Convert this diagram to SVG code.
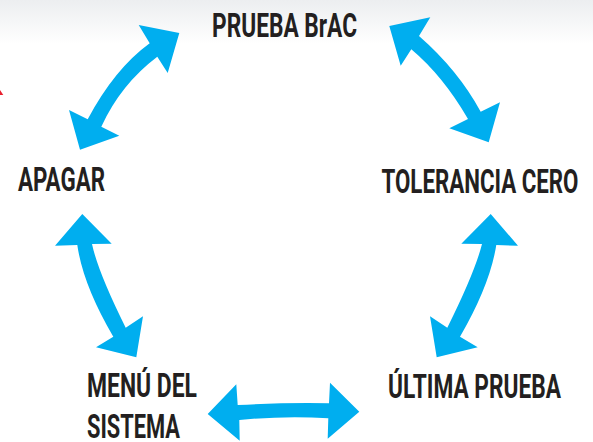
<svg xmlns="http://www.w3.org/2000/svg" width="593" height="442" viewBox="0 0 593 442">
  <defs>
    <linearGradient id="topShade" x1="0" y1="0" x2="0" y2="1">
      <stop offset="0" stop-color="#eceef0"/>
      <stop offset="1" stop-color="#ffffff"/>
    </linearGradient>
  </defs>
  <style>
    .arrow { fill: #00aeef; }
    .label { font-family: "Roboto", "Liberation Sans", sans-serif; font-weight: 700; font-size: 34px; fill: #231f20; }
  </style>
  <rect width="593" height="442" fill="#ffffff"/>
  <rect width="593" height="44" fill="url(#topShade)"/>
  <polygon points="0,90 3.3,95 0,95" fill="#e8202f"/>
  <g id="connectors">
    <path class="arrow" d="M179.3,33 L138.7,25 L149.7,43.3 Q114.7,68.7 87.7,119.3 L69,110 L80,149.7 L119.3,135.7 L101.3,126.7 Q120.7,84.3 157.3,56.7 L167.7,73 Z"/>
    <path class="arrow" d="M389.3,26 L430.3,17.3 L419,36 Q458,70 480.7,111.7 L500,102.3 L488.7,142.3 L449.3,128.3 L468,119 Q443,76 411.3,49.3 L400.7,65.7 Z"/>
    <path class="arrow" d="M82.3,214 L55,245.7 L77.3,245 Q83,285 113.3,336.7 L96,347.3 L136.3,357.3 L143,316.3 L125.7,327.7 Q98,272 92,244 L111.7,243.7 Z"/>
    <path class="arrow" d="M490.7,214 L518,245.7 L496.3,245 Q490,285 460,336.7 L477.7,347.3 L436.7,357.3 L430,316.3 L447.3,327.7 Q475,272 482,244 L461.3,243.7 Z"/>
    <path class="arrow" d="M207.7,414 L236.3,384.3 L237.7,405 Q285,402.5 329,403.3 L330,382.7 L359.3,411.7 L327.7,438.7 L328.3,418.3 Q285,415.5 239.3,420 L239.7,440.7 Z"/>
  </g>
  <g id="node-prueba-brac"><text class="label" transform="translate(212,36.5) scale(.64,1)" textLength="226.6" lengthAdjust="spacingAndGlyphs">PRUEBA BrAC</text></g>
  <g id="node-tolerancia-cero"><text class="label" transform="translate(381.5,193) scale(.64,1)" textLength="307.8" lengthAdjust="spacingAndGlyphs">TOLERANCIA CERO</text></g>
  <g id="node-ultima-prueba"><text class="label" transform="translate(388,398) scale(.64,1)" textLength="270.3" lengthAdjust="spacingAndGlyphs">ÚLTIMA PRUEBA</text></g>
  <g id="node-menu-sistema">
    <text class="label" transform="translate(87,396.5) scale(.64,1)" textLength="171.9" lengthAdjust="spacingAndGlyphs">MENÚ DEL</text>
    <text class="label" transform="translate(87,438) scale(.64,1)" textLength="145.3" lengthAdjust="spacingAndGlyphs">SISTEMA</text>
  </g>
  <g id="node-apagar"><text class="label" transform="translate(18,190.5) scale(.64,1)" textLength="135.9" lengthAdjust="spacingAndGlyphs">APAGAR</text></g>
</svg>
